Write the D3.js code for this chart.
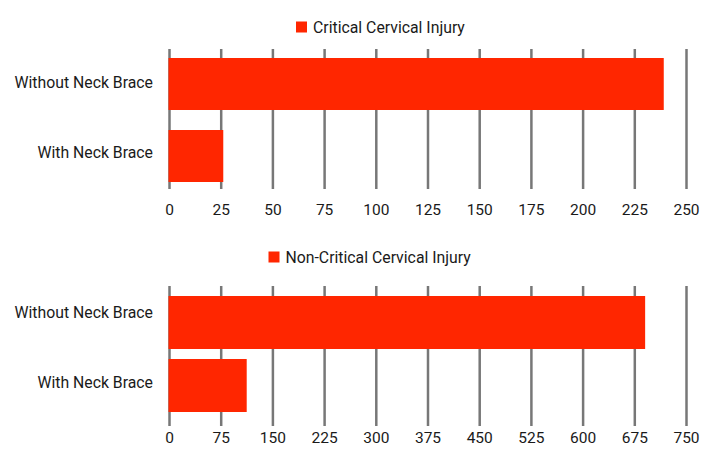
<!DOCTYPE html>
<html lang="en">
<head>
<meta charset="utf-8">
<title>Neck brace cervical injury</title>
<script src="https://cdn.jsdelivr.net/npm/d3@7"></script>
<style>
  body { margin: 0; background: #fff; }
  text { font-family: Roboto, "Noto Sans", sans-serif; fill: #1a1a1a; }
</style>
</head>
<body>
<div id="chart"></div>
<script>
// data
var categories = ["Without Neck Brace", "With Neck Brace"];
var criticalValues = [239, 26];
var nonCriticalValues = [690, 112];
var criticalTicks = [0, 25, 50, 75, 100, 125, 150, 175, 200, 225, 250];
var nonCriticalTicks = [0, 75, 150, 225, 300, 375, 450, 525, 600, 675, 750];
var seriesNames = ["Critical Cervical Injury", "Non-Critical Cervical Injury"];

var W = 717, H = 460,
    barColor = "#ff2600",
    gridColor = "#777",
    fontSize = "15.8px";

var svg = d3.select("#chart").append("svg")
    .attr("width", W).attr("height", H);

// one panel per series
var panels = [
  {name: seriesNames[0], values: criticalValues, ticks: criticalTicks,
   gridTop: 49, gridBot: 189, barTop: 58, barBot: 182, padIn: 0.278,
   catTop: 47, catBot: 188, legendX: 296, legendY: 27, labelY: 210},
  {name: seriesNames[1], values: nonCriticalValues, ticks: nonCriticalTicks,
   gridTop: 286, gridBot: 426, barTop: 296, barBot: 412, padIn: 0.159,
   catTop: 277.5, catBot: 417, legendX: 268.5, legendY: 257, labelY: 438}
];

panels.forEach(function (p) {
  var g = svg.append("g");
  var x = d3.scaleLinear()
      .domain([p.ticks[0], p.ticks[p.ticks.length - 1]])
      .range([169.5, 686.5]);
  var y = d3.scaleBand()
      .domain(categories)
      .range([p.barTop, p.barBot])
      .paddingInner(p.padIn)
      .paddingOuter(0);
  var yLab = d3.scaleBand()
      .domain(categories)
      .range([p.catTop, p.catBot]);

  // gridlines
  g.selectAll("line.grid").data(p.ticks).enter().append("line")
      .attr("class", "grid")
      .attr("x1", function (d) { return x(d); })
      .attr("x2", function (d) { return x(d); })
      .attr("y1", p.gridTop).attr("y2", p.gridBot)
      .attr("stroke", gridColor).attr("stroke-width", 2.5);

  // tick labels
  g.selectAll("text.tick").data(p.ticks).enter().append("text")
      .attr("class", "tick")
      .attr("x", function (d) { return x(d); })
      .attr("y", p.labelY)
      .attr("dy", "0.35em")
      .attr("text-anchor", "middle")
      .style("font-size", "15.5px")
      .text(function (d) { return d; });

  // bars
  g.selectAll("rect.bar").data(p.values).enter().append("rect")
      .attr("class", "bar")
      .attr("x", x(0) - 1)
      .attr("y", function (d, i) { return y(categories[i]); })
      .attr("width", function (d) { return x(d) - x(0) + 1; })
      .attr("height", y.bandwidth())
      .attr("fill", barColor);

  // category labels
  g.selectAll("text.cat").data(categories).enter().append("text")
      .attr("class", "cat")
      .attr("x", 153)
      .attr("y", function (d) { return yLab(d) + yLab.bandwidth() / 2; })
      .attr("dy", "0.35em")
      .attr("text-anchor", "end")
      .style("font-size", fontSize)
      .text(function (d) { return d; });

  // legend
  var lg = g.append("g").attr("transform", "translate(" + p.legendX + ",0)");
  lg.append("rect")
      .attr("x", 0).attr("y", p.legendY - 5.5)
      .attr("width", 11).attr("height", 11)
      .attr("fill", barColor);
  lg.append("text")
      .attr("x", 17).attr("y", p.legendY).attr("dy", "0.35em")
      .style("font-size", fontSize)
      .text(p.name);
});
</script>
</body>
</html>
